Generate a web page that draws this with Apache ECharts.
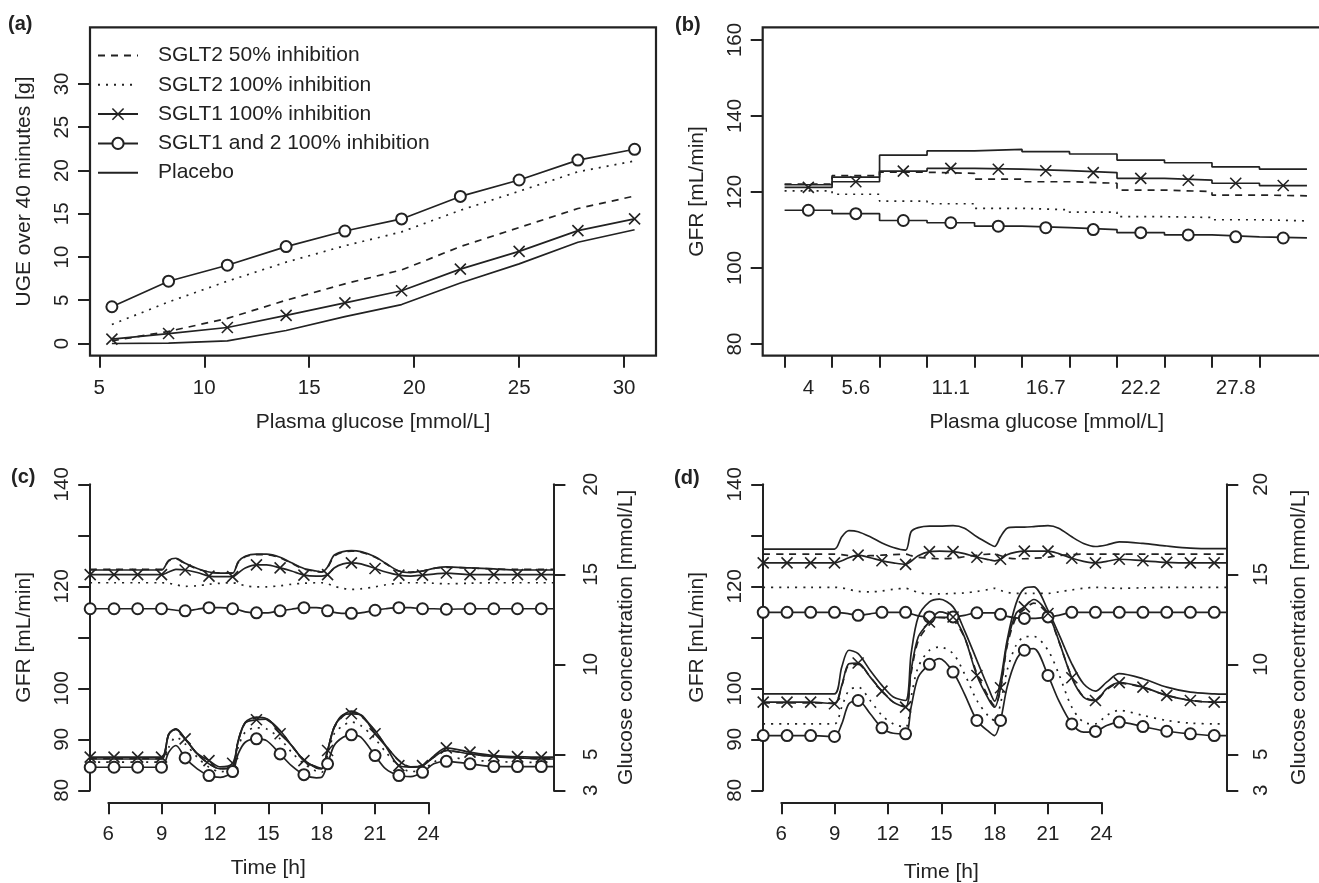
<!DOCTYPE html>
<html><head><meta charset="utf-8">
<script src="https://cdn.jsdelivr.net/npm/echarts@6/dist/echarts.min.js"></script>
<style>html,body{margin:0;padding:0;background:#fff}#main{width:1319px;height:883px}</style>
</head><body><div id="main"></div>
<script>
// ================= DATA =================
const seriesNames = ['SGLT2 50% inhibition', 'SGLT2 100% inhibition', 'SGLT1 100% inhibition', 'SGLT1 and 2 100% inhibition', 'Placebo'];

// (a) UGE over 40 minutes [g] vs plasma glucose
const aGlucose   = [5.6, 8.3, 11.1, 13.9, 16.7, 19.4, 22.2, 25.0, 27.8, 30.5];
const aSglt2_50  = [0.3, 1.4, 2.9, 5.0, 6.9, 8.5, 11.2, 13.4, 15.6, 17.05];
const aSglt2_100 = [2.2, 4.8, 7.2, 9.4, 11.3, 12.9, 15.4, 17.6, 19.85, 21.1];
const aSglt1_100 = [0.5, 1.15, 1.85, 3.25, 4.7, 6.1, 8.6, 10.65, 13.05, 14.4];
const aSglt12    = [4.25, 7.2, 9.05, 11.2, 13.0, 14.4, 17.0, 18.9, 21.2, 22.45];
const aPlacebo   = [0.0, 0.05, 0.3, 1.5, 3.1, 4.5, 7.0, 9.2, 11.7, 13.15];
const aXTicks = [5, 10, 15, 20, 25, 30];
const aYTicks = [0, 5, 10, 15, 20, 25, 30];

// (b) GFR per plasma glucose level (one value per level step)
const bLevels        = [4, 5.6, 8.3, 11.1, 13.9, 16.7, 19.4, 22.2, 25.0, 27.8, 30.5];
const bLabeledLevels = [4, 5.6, 11.1, 16.7, 22.2, 27.8];
const bSglt2_50  = [122.1, 124.3, 125.2, 124.9, 123.4, 122.7, 122.3, 120.5, 120.1, 119.2, 119.0];
const bSglt2_100 = [120.3, 119.4, 117.6, 116.9, 115.7, 115.3, 114.7, 113.5, 113.3, 112.7, 112.4];
const bSglt1_100 = [121.2, 122.7, 125.5, 126.2, 126.0, 125.6, 125.1, 123.6, 123.1, 122.3, 121.7];
const bSglt12    = [115.2, 114.3, 112.5, 111.9, 111.0, 110.6, 110.1, 109.3, 108.7, 108.2, 107.9];
const bPlacebo   = [121.9, 123.9, 129.7, 130.8, 131.2, 130.6, 130.0, 128.4, 127.7, 126.6, 126.0];
const bYTicks = [80, 100, 120, 140, 160];

// (c),(d) time courses
const T  = [4.98, 6.32, 7.65, 8.99, 9.4, 9.8, 10.32, 11.0, 11.66, 12.3, 12.99, 13.3, 13.7, 14.33, 14.9, 15.66, 16.3, 17.0, 17.7, 18.0, 18.33, 18.7, 19.2, 19.67, 20.2, 21.0, 21.6, 22.34, 23.0, 23.67, 24.3, 25.01, 26.34, 27.68, 29.01, 30.35, 31.03];
const TM = [4.98, 6.32, 7.65, 8.99, 10.32, 11.66, 12.99, 14.33, 15.66, 17.0, 18.33, 19.67, 21.0, 22.34, 23.67, 25.01, 26.34, 27.68, 29.01, 30.35];
const timeTicks = [6, 9, 12, 15, 18, 21, 24];
const gfrTicks  = [80, 90, 100, 110, 120, 130, 140];
const gfrLabels = [80, 90, 100, 120, 140];
const gluTicks  = [3, 5, 10, 15, 20];

// (c) GFR
const cGfr50      = [123.3,123.3,123.3,123.3,125.0,125.4,124.4,123.4,122.8,122.6,122.6,124.6,125.8,126.2,126.2,125.6,124.5,123.4,122.9,122.8,123.7,125.9,126.7,126.9,126.7,125.7,124.4,123.0,122.8,123.0,123.5,123.7,123.6,123.4,123.3,123.3,123.3];
const cGfr100     = [120.7,120.7,120.7,120.7,120.6,120.3,120.0,120.1,120.4,120.6,120.7,120.5,120.1,119.9,119.9,120.1,120.4,120.6,120.7,120.7,120.5,120.0,119.6,119.4,119.5,119.9,120.3,120.6,120.7,120.7,120.6,120.5,120.6,120.7,120.7,120.7,120.7];
const cGfr1       = [122.3,122.3,122.3,122.3,122.8,123.3,123.2,122.7,122.0,121.9,121.9,122.6,123.6,124.2,124.2,123.6,123.0,122.2,122.0,122.0,122.3,123.6,124.4,124.6,124.4,123.5,122.8,122.2,122.0,122.2,122.4,122.6,122.3,122.3,122.3,122.3,122.3];
const cGfr12      = [115.6,115.6,115.6,115.6,115.5,115.3,115.2,115.5,115.8,115.8,115.6,115.4,115.0,114.8,114.8,115.2,115.5,115.8,115.8,115.7,115.2,114.9,114.7,114.7,114.8,115.3,115.6,115.8,115.8,115.6,115.6,115.5,115.6,115.6,115.6,115.6,115.6];
const cGfrPlacebo = [123.2,123.2,123.2,123.2,125.1,125.5,124.5,123.5,122.8,122.6,122.6,124.8,125.9,126.3,126.3,125.7,124.6,123.5,123.0,122.8,123.8,126.1,126.8,127.0,126.8,125.8,124.5,123.0,122.7,123.0,123.5,123.8,123.6,123.4,123.2,123.2,123.2];
// (c) glucose
const cGlu50      = [4.76,4.76,4.76,4.76,6.12,6.38,5.84,5.02,4.48,4.20,4.33,5.74,6.74,7.02,6.94,6.30,5.49,4.70,4.26,4.21,5.20,6.48,7.12,7.36,7.13,6.30,5.48,4.66,4.30,4.38,4.84,5.20,5.02,4.88,4.81,4.76,4.76];
const cGlu100     = [4.56,4.56,4.56,4.56,5.39,5.95,5.58,4.84,4.28,4.04,4.19,5.39,6.23,6.47,6.41,5.86,5.12,4.47,4.06,4.00,4.93,6.14,6.60,6.79,6.60,5.86,5.12,4.37,4.04,4.13,4.56,4.84,4.69,4.60,4.56,4.55,4.55];
const cGlu1       = [4.84,4.84,4.84,4.84,6.10,6.40,5.86,5.05,4.65,4.30,4.50,5.70,6.75,6.92,6.95,6.14,5.50,4.65,4.30,4.22,5.21,6.50,7.20,7.25,7.20,6.14,5.45,4.37,4.30,4.37,4.90,5.36,5.12,4.93,4.87,4.84,4.84];
const cGlu12      = [4.28,4.28,4.28,4.28,5.12,5.49,4.80,4.19,3.82,3.72,4.04,5.02,5.67,5.86,5.76,5.02,4.37,3.87,3.69,3.72,4.47,5.49,5.95,6.08,5.95,4.93,4.19,3.82,3.76,4.00,4.47,4.61,4.47,4.32,4.32,4.32,4.32];
const cGluPlacebo = [4.74,4.74,4.74,4.74,6.14,6.41,5.86,5.02,4.47,4.19,4.32,5.76,6.78,7.06,6.97,6.32,5.49,4.69,4.24,4.19,5.21,6.51,7.16,7.40,7.16,6.32,5.49,4.65,4.28,4.37,4.84,5.21,5.02,4.87,4.80,4.74,4.74];

// (d) GFR
const dGfr50      = [126.3,126.3,126.3,126.3,126.2,126.0,125.9,126.0,126.1,126.2,126.3,126.0,125.7,125.5,125.4,125.5,125.8,126.1,126.3,126.3,126.0,125.6,125.4,125.4,125.5,125.7,126.0,126.2,126.3,126.3,126.3,126.3,126.3,126.3,126.3,126.3,126.3];
const dGfr100     = [119.8,119.8,119.8,119.8,119.7,119.4,119.0,118.9,119.1,119.4,119.6,119.3,118.8,118.5,118.5,118.6,118.7,119.0,119.4,119.6,119.2,118.8,118.6,118.6,118.6,118.6,118.9,119.3,119.6,119.8,119.7,119.6,119.7,119.8,119.8,119.8,119.8];
const dGfr1       = [124.6,124.6,124.6,124.6,125.0,125.6,126.1,125.6,125.0,124.6,124.3,124.9,126.0,126.8,126.9,126.8,126.4,125.7,125.2,125.0,125.3,126.2,126.7,126.9,126.9,126.9,126.4,125.5,124.9,124.6,124.9,125.3,125.0,124.7,124.6,124.6,124.6];
const dGfr12      = [114.9,114.9,114.9,114.9,114.8,114.6,114.3,114.6,114.9,114.9,114.9,114.6,114.2,114.0,113.9,114.0,114.3,114.8,114.8,114.8,114.5,114.1,113.8,113.7,113.7,114.0,114.3,114.9,114.9,114.9,114.9,114.9,114.9,114.9,114.9,114.9,114.9];
const dGfrPlacebo = [127.3,127.3,127.3,127.3,129.7,130.9,130.7,129.7,128.5,127.6,127.1,130.7,131.5,131.8,131.8,131.9,131.4,129.7,128.3,127.8,129.7,131.4,131.6,131.6,131.7,131.9,131.4,129.7,128.4,127.8,128.1,128.7,128.4,127.9,127.5,127.4,127.4];
// (d) glucose
const dGlu50      = [7.85,7.85,7.85,7.85,8.80,9.95,10.00,9.30,8.50,7.90,7.65,9.50,11.30,12.20,12.60,12.45,11.50,9.50,8.10,7.70,8.60,11.00,12.60,13.05,13.40,12.75,11.30,9.30,8.20,8.00,8.60,8.95,8.72,8.27,8.00,7.90,7.90];
const dGlu100     = [6.69,6.69,6.69,6.69,7.62,8.55,8.73,7.99,7.16,6.69,6.51,8.18,9.85,10.78,10.96,10.59,9.48,7.99,7.06,6.88,7.81,9.66,11.05,11.52,11.55,10.78,9.48,7.62,6.79,6.69,7.16,7.44,7.16,6.88,6.73,6.69,6.69];
const dGlu1       = [7.90,7.90,7.90,7.81,8.83,10.03,10.07,9.29,8.51,7.90,7.62,9.66,11.52,12.35,12.91,12.63,11.52,9.38,7.99,7.62,8.70,11.15,12.82,13.19,13.60,12.82,11.33,9.25,8.18,7.99,8.64,8.98,8.73,8.27,7.99,7.90,7.90];
const dGlu12      = [6.04,6.04,6.04,5.99,6.69,7.81,7.99,7.25,6.47,6.17,6.14,7.62,9.29,10.00,10.31,9.57,8.36,6.88,6.23,6.04,6.88,8.73,10.22,10.78,10.87,9.38,7.99,6.69,6.23,6.27,6.60,6.79,6.54,6.28,6.14,6.04,6.04];
const dGluPlacebo = [8.36,8.36,8.36,8.36,9.85,10.78,10.59,9.66,8.83,8.18,7.99,10.59,12.63,13.47,13.62,13.19,11.89,10.22,8.55,7.95,9.10,11.33,13.37,14.21,14.30,13.00,11.70,10.03,8.92,8.51,9.01,9.48,9.20,8.73,8.45,8.36,8.34];

// ================= STYLE =================
const INK = '#222';
const FONT = '"Liberation Sans", Arial, Helvetica, sans-serif';
const LW = 1.7;
const LINE_TYPES = [[7, 6], [2, 6], 'solid', 'solid', 'solid'];
const MARKERS = [null, null, 'cross', 'circle', null];
const CROSS = 'path://M0,0L10,10M0,10L10,0';
const SYM = 11;
function symbolOf(k) { return MARKERS[k] === 'cross' ? CROSS : (MARKERS[k] === 'circle' ? 'emptyCircle' : 'none'); }
const markerStyle = { color: INK, borderColor: INK, borderWidth: 1.6, opacity: 1 };
const tickFont = { color: INK, fontSize: 20.5, fontFamily: FONT };
const nameFont = { color: INK, fontSize: 21, fontFamily: FONT };
const tick = (vals) => ({ show: true, inside: false, length: 12, lineStyle: { color: INK, width: 2 }, customValues: vals });
const axLine = (show) => ({ show, onZero: false, lineStyle: { color: INK, width: 2 } });

const series = [];
function lineSeries(k, xi, yi, data, extra) {
  return Object.assign({
    name: seriesNames[k], type: 'line', xAxisIndex: xi, yAxisIndex: yi, data,
    symbol: 'none', showSymbol: false,
    lineStyle: { color: INK, width: LW, type: LINE_TYPES[k] },
    itemStyle: markerStyle, emphasis: { disabled: true }, z: 3
  }, extra || {});
}
function markerSeries(k, xi, yi, data) {
  return {
    name: seriesNames[k], type: 'scatter', xAxisIndex: xi, yAxisIndex: yi, data,
    symbol: symbolOf(k), symbolSize: SYM, itemStyle: markerStyle, clip: false,
    emphasis: { disabled: true }, z: 4
  };
}

// (a)
[aSglt2_50, aSglt2_100, aSglt1_100, aSglt12, aPlacebo].forEach((vals, k) => {
  series.push(lineSeries(k, 0, 0, aGlucose.map((g, i) => [g, vals[i]]), {
    symbol: symbolOf(k), symbolSize: SYM, showSymbol: MARKERS[k] !== null, showAllSymbol: true
  }));
});
// (b)
[bSglt2_50, bSglt2_100, bSglt1_100, bSglt12, bPlacebo].forEach((vals, k) => {
  const pts = vals.map((v, i) => [i, v]);
  pts.push([vals.length, vals[vals.length - 1]]);
  series.push(lineSeries(k, 1, 1, pts, { step: 'end' }));
  if (MARKERS[k]) series.push(markerSeries(k, 1, 1, vals.map((v, i) => [i + 0.5, v])));
});
// (c),(d)
function timePanel(xi, yl, yr, gfr, glu) {
  [[gfr, yl], [glu, yr]].forEach(([group, yi]) => {
    group.forEach((vals, k) => {
      const pts = T.map((t, i) => [t, vals[i]]);
      series.push(lineSeries(k, xi, yi, pts, { smooth: 0.3 }));
      if (MARKERS[k]) series.push(markerSeries(k, xi, yi, pts.filter(p => TM.includes(p[0]))));
    });
  });
}
timePanel(2, 2, 3, [cGfr50, cGfr100, cGfr1, cGfr12, cGfrPlacebo], [cGlu50, cGlu100, cGlu1, cGlu12, cGluPlacebo]);
timePanel(4, 5, 6, [dGfr50, dGfr100, dGfr1, dGfr12, dGfrPlacebo], [dGlu50, dGlu100, dGlu1, dGlu12, dGluPlacebo]);

// ================= AXES =================
const noSplit = { show: false };
function bottomX(grid, min, max, ticks, labels, name, gap, extraLabel) {
  return { gridIndex: grid, type: 'value', min, max, position: 'bottom', splitLine: noSplit,
    axisLine: axLine(false), axisTick: tick(ticks),
    axisLabel: Object.assign({ customValues: labels, margin: 22 }, tickFont, extraLabel || {}),
    name, nameLocation: 'middle', nameGap: gap, nameTextStyle: nameFont };
}
const xAxis = [
  bottomX(0, 4.557, 31.52, aXTicks, aXTicks, 'Plasma glucose [mmol/L]', 56),
  bottomX(1, -0.461, 11.5, bLevels.map((l, i) => i), bLabeledLevels.map(l => bLevels.indexOf(l) + 0.5),
    'Plasma glucose [mmol/L]', 56, { formatter: v => String(bLevels[Math.floor(v)]) }),
  { gridIndex: 2, type: 'value', min: 4.98, max: 31.03, show: false, splitLine: noSplit, axisLine: axLine(false) },
  Object.assign(bottomX(3, 6, 24, timeTicks, timeTicks, 'Time [h]', 55), { axisLine: axLine(true) }),
  { gridIndex: 4, type: 'value', min: 4.98, max: 31.03, show: false, splitLine: noSplit, axisLine: axLine(false) },
  Object.assign(bottomX(5, 6, 24, timeTicks, timeTicks, 'Time [h]', 59), { axisLine: axLine(true) })
];
function leftY(grid, min, max, ticks, labels, name, showLine) {
  return { gridIndex: grid, type: 'value', min, max, position: 'left', splitLine: noSplit,
    axisLine: axLine(showLine), axisTick: tick(ticks),
    axisLabel: Object.assign({ customValues: labels, rotate: 90, margin: 17, align: 'center', verticalAlign: 'bottom' }, tickFont),
    name, nameLocation: 'middle', nameRotate: 90, nameGap: 55, nameTextStyle: nameFont };
}
function rightY(grid, margin) {
  return { gridIndex: grid, type: 'value', min: 3, max: 20, position: 'right', splitLine: noSplit,
    axisLine: axLine(true), axisTick: tick(gluTicks),
    axisLabel: Object.assign({ customValues: gluTicks, rotate: 90, margin, align: 'center', verticalAlign: 'top' }, tickFont),
    name: 'Glucose concentration [mmol/L]', nameLocation: 'middle', nameRotate: 90, nameGap: 62, nameTextStyle: nameFont };
}
const yAxis = [
  leftY(0, -1.41, 36.55, aYTicks, aYTicks, 'UGE over 40 minutes [g]', false),
  leftY(1, 76.92, 163.34, bYTicks, bYTicks, 'GFR [mL/min]', false),
  leftY(2, 80, 140, gfrTicks, gfrLabels, 'GFR [mL/min]', true),
  rightY(2, 27),
  { gridIndex: 3, type: 'value', min: 0, max: 1, show: false, splitLine: noSplit, axisLine: axLine(false) },
  leftY(4, 80, 140, gfrTicks, gfrLabels, 'GFR [mL/min]', true),
  rightY(4, 25),
  { gridIndex: 5, type: 'value', min: 0, max: 1, show: false, splitLine: noSplit, axisLine: axLine(false) }
];

const boxGrid = { show: true, borderColor: INK, borderWidth: 2.2, backgroundColor: 'transparent', outerBoundsMode: 'none', containLabel: false };
const plainGrid = { show: false, outerBoundsMode: 'none', containLabel: false };
const grid = [
  Object.assign({ left: 90, top: 27.3, width: 566, height: 328.4 }, boxGrid),
  Object.assign({ left: 762.7, top: 27.3, width: 568, height: 328.4 }, boxGrid),
  Object.assign({ left: 90.2, top: 484.3, width: 463.2, height: 306 }, plainGrid),
  Object.assign({ left: 108.3, top: 790.3, width: 320, height: 12 }, plainGrid),
  Object.assign({ left: 763.2, top: 484.3, width: 463.1, height: 306 }, plainGrid),
  Object.assign({ left: 781.3, top: 790.3, width: 320, height: 12 }, plainGrid)
];

const panelTitle = (text, left, top) => ({ text, left, top, padding: 0,
  textStyle: { color: INK, fontSize: 20, fontWeight: 'bold', fontFamily: FONT } });

const chart = echarts.init(document.getElementById('main'), null, { renderer: 'canvas' });
chart.setOption({
  animation: false,
  backgroundColor: '#fff',
  title: [panelTitle('(a)', 8, 14), panelTitle('(b)', 675, 15), panelTitle('(c)', 11, 467), panelTitle('(d)', 674, 468)],
  legend: {
    data: seriesNames.map((n, k) => MARKERS[k] ? { name: n, itemStyle: { borderWidth: 1.6 } } : { name: n, itemStyle: { opacity: 0 } }),
    orient: 'vertical', left: 97, top: 45, padding: 0,
    itemWidth: 40, itemHeight: 14, itemGap: 8.3, selectedMode: false,
    textStyle: { color: INK, fontSize: 21, fontFamily: FONT, padding: [0, 0, 0, 15] }
  },
  grid, xAxis, yAxis, series
});
</script>
</body></html>
